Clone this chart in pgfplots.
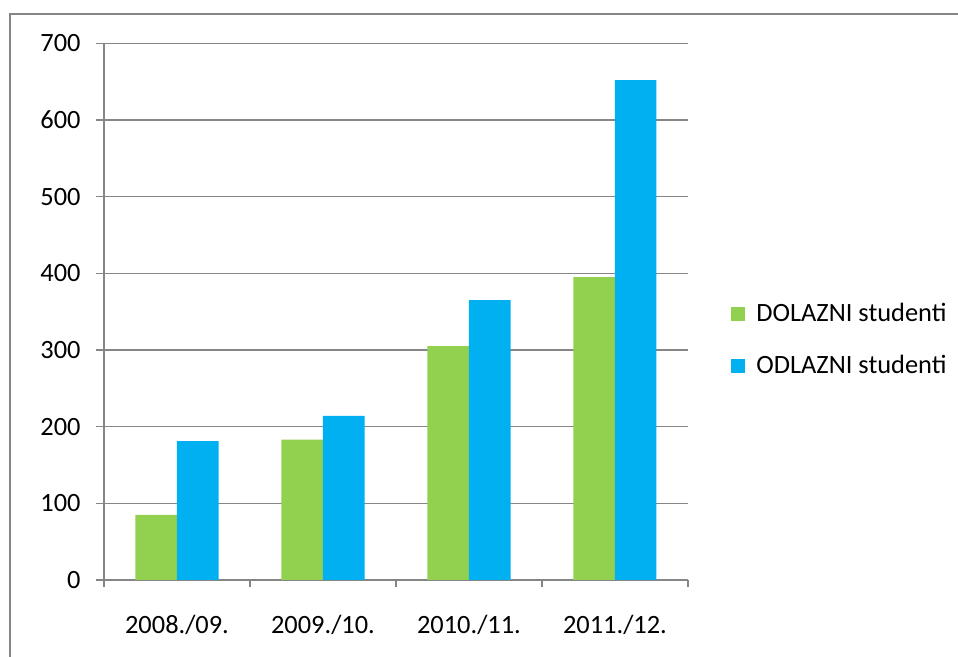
\documentclass[border=0pt]{standalone}
\usepackage{fontspec}
\setmainfont{Carlito}
\usepackage{pgfplots}
\pgfplotsset{compat=1.18}
\definecolor{dolgreen}{HTML}{92D050}
\definecolor{odlblue}{HTML}{00B0F0}
\definecolor{axgray}{HTML}{868686}
\begin{document}
\fontsize{13.2bp}{16bp}\selectfont
\begin{tikzpicture}
% page = 958x657 px at 0.5bp per px
\path[use as bounding box] (0,0) rectangle (479bp,328.5bp);
\draw[axgray, line width=1.3bp] (5bp,0bp) -- (5bp,321.5bp) -- (479bp,321.5bp);
\begin{axis}[
    at={(52bp,38.5bp)}, anchor=south west,
    scale only axis, width=292bp, height=268.35bp,
    ybar=0pt, bar width=20.75bp,
    xmin=-0.5, xmax=3.5, ymin=0, ymax=700,
    axis lines*=left,
    axis line style={axgray, line width=0.6bp},
    ytick={0,100,...,700},
    xtick={0,1,2,3},
    xticklabels={2008./09., 2009./10., 2010./11., 2011./12.},
    minor xtick={-0.5,0.5,1.5,2.5,3.5},
    tick align=outside,
    major tick length=4bp, minor tick length=3.5bp,
    tick style={axgray, line width=0.6bp},
    major x tick style={draw=none},
    ymajorgrids, grid style={axgray, line width=0.6bp},
    /pgf/number format/assume math mode=true,
    yticklabel style={inner sep=0pt, xshift=-7.5bp},
    xticklabel style={inner sep=0pt, anchor=base, yshift=-22.5bp},
    legend style={draw=none, fill=none, inner sep=0pt,
        at={(1.0736,0.447)}, anchor=west,
        nodes={inner sep=0pt, anchor=base west},
        row sep=15bp,
        /tikz/every odd column/.append style={column sep=5.5bp}},
    legend cell align=left,
    legend image code/.code={\fill[#1, draw=none] (0bp,0bp) rectangle (7bp,7bp);},
]
\addplot[fill=dolgreen, draw=none] coordinates {(0,85) (1,183) (2,305) (3,395)};
\addlegendentry{DOLAZNI studenti}
\addplot[fill=odlblue, draw=none] coordinates {(0,181) (1,214) (2,365) (3,652)};
\addlegendentry{ODLAZNI studenti}
\end{axis}
\end{tikzpicture}
\end{document}
